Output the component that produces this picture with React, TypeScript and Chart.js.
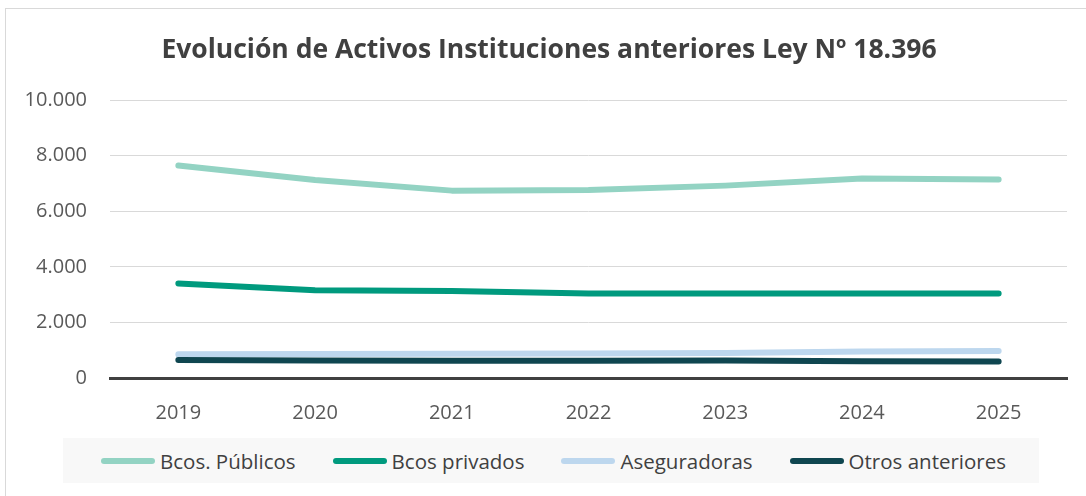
import React, { useEffect, useRef } from 'react';
import { Chart, registerables } from 'chart.js';

Chart.register(...registerables);

const titleText = 'Evolución de Activos Instituciones anteriores Ley Nº 18.396';
const years = ['2019', '2020', '2021', '2022', '2023', '2024', '2025'];
const bcosPublicos = [7640, 7120, 6740, 6760, 6920, 7180, 7140];
const bcosPrivados = [3400, 3160, 3130, 3040, 3040, 3040, 3040];
const aseguradoras = [850, 860, 870, 880, 900, 950, 970];
const otrosAnteriores = [650, 630, 620, 620, 630, 600, 590];
const seriesNames = ['Bcos. Públicos', 'Bcos privados', 'Aseguradoras', 'Otros anteriores'];
const seriesColors = ['#93d3c3', '#009a7e', '#bdd7ee', '#0f4650'];
const yMin = 0;
const yMax = 10000;
const yStep = 2000;

const seriesValues = [bcosPublicos, bcosPrivados, aseguradoras, otrosAnteriores];

function fmt(v: number): string {
  return String(Math.round(v)).replace(/\B(?=(\d{3})+(?!\d))/g, '.');
}

export default function App() {
  const canvasRef = useRef<HTMLCanvasElement | null>(null);

  useEffect(() => {
    document.body.style.margin = '0';
    const canvas = canvasRef.current;
    if (!canvas) return;
    const chart = new Chart(canvas, {
      type: 'line',
      data: {
        labels: years,
        datasets: seriesNames.map((name, i) => ({
          label: name,
          data: seriesValues[i],
          borderColor: seriesColors[i],
          backgroundColor: seriesColors[i],
          borderWidth: 6,
          borderCapStyle: 'round' as const,
          borderJoinStyle: 'round' as const,
          pointRadius: 0,
          pointHoverRadius: 0,
          tension: 0,
          fill: false,
          order: seriesNames.length - 1 - i,
        })),
      },
      options: {
        responsive: false,
        animation: false,
        devicePixelRatio: 1,
        layout: { padding: { left: 12, right: 0, top: 0, bottom: 48 } },
        plugins: {
          legend: { display: false },
          tooltip: { enabled: false },
          title: {
            display: true,
            text: titleText,
            color: '#404040',
            font: { family: 'Open Sans', size: 26.5, weight: 'bold' },
            padding: { top: 35, bottom: 33.2 },
          },
        },
        scales: {
          x: {
            offset: true,
            grid: { display: false, drawTicks: false },
            border: { display: true, color: '#404040', width: 3 },
            ticks: {
              color: '#595959',
              font: { family: 'Open Sans', size: 20 },
              padding: 23,
              maxRotation: 0,
            },
          },
          y: {
            min: yMin,
            max: yMax,
            grid: { color: '#d9d9d9', lineWidth: 1, drawTicks: false },
            border: { display: false },
            ticks: {
              stepSize: yStep,
              color: '#595959',
              font: { family: 'Open Sans', size: 20 },
              padding: 23,
              callback: (v: any) => fmt(Number(v)),
            },
            afterFit: (scale: any) => {
              scale.width = 98;
            },
          },
          yRightSpacer: {
            position: 'right',
            display: true,
            min: yMin,
            max: yMax,
            grid: { display: false, drawTicks: false },
            border: { display: false },
            ticks: { display: false },
            afterFit: (scale: any) => {
              scale.width = 19;
            },
          },
        },
      },
    });
    return () => chart.destroy();
  }, []);

  return (
    <div style={{ position: 'relative', width: 1086, height: 496, background: '#ffffff', overflow: 'hidden' }}>
      <canvas ref={canvasRef} width={1086} height={496} style={{ display: 'block' }} />
      <div
        style={{
          position: 'absolute',
          left: 5,
          top: 8,
          width: 1200,
          height: 600,
          borderLeft: '1px solid #d9d9d9',
          borderTop: '1px solid #d9d9d9',
          pointerEvents: 'none',
        }}
      />
      <div
        style={{
          position: 'absolute',
          left: 63,
          top: 438,
          width: 976,
          height: 45,
          background: '#f8f8f8',
          display: 'flex',
          alignItems: 'center',
          paddingLeft: 38,
          boxSizing: 'border-box',
          gap: 37,
          fontFamily: 'Open Sans',
          fontSize: 20.5,
          color: '#404040',
          whiteSpace: 'nowrap',
        }}
      >
        {seriesNames.map((name, i) => (
          <div key={name} style={{ display: 'flex', alignItems: 'center' }}>
            <span
              style={{
                display: 'inline-block',
                width: 54,
                height: 6,
                borderRadius: 3,
                background: seriesColors[i],
                marginRight: 5,
              }}
            />
            <span>{name}</span>
          </div>
        ))}
      </div>
    </div>
  );
}
